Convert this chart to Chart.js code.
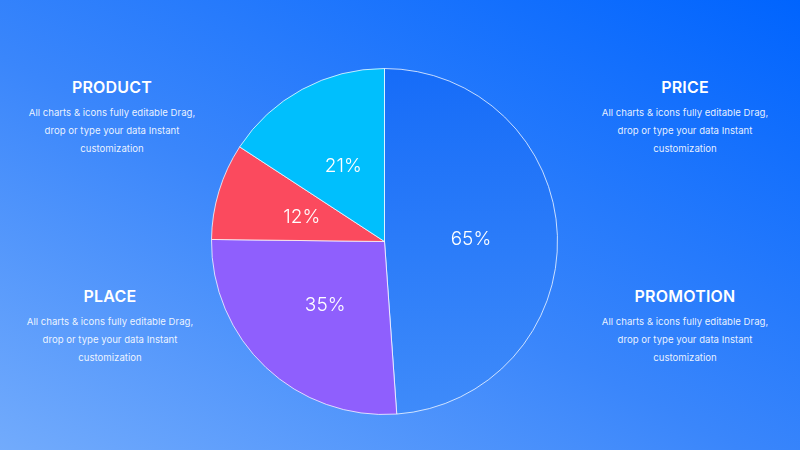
<!DOCTYPE html>
<html lang="en">
<head>
    <meta charset="UTF-8">
    <script src="https://cdn.jsdelivr.net/npm/chart.js"></script>
    <title>Marketing Mix Pie</title>
    <style>
        html, body { margin: 0; padding: 0; }
        body {
            width: 800px; height: 450px; overflow: hidden; position: relative;
            background: linear-gradient(208deg, #0064fe 0%, #3a86fb 55%, #72abfc 100%);
            font-family: "Inter", "Open Sans", sans-serif; color: #fff;
        }
        .box { position: absolute; width: 220px; text-align: center; }
        .box h2 { margin: 0; font-size: 16px; font-weight: 600; letter-spacing: 0.2px; height: 20px; line-height: 20px; }
        .box p { margin: 7px 0 0 0; font-size: 9.6px; line-height: 18px; color: rgba(255,255,255,0.9); }
        #wrap { position: absolute; left: 211px; top: 68px; width: 347px; height: 347px; }
    </style>
</head>
<body>
    <div class="box" style="left: 2px; top: 77px;">
        <h2>PRODUCT</h2>
        <p>All charts &amp; icons fully editable Drag,<br>drop or type your data Instant<br>customization</p>
    </div>
    <div class="box" style="left: 575px; top: 77px;">
        <h2>PRICE</h2>
        <p>All charts &amp; icons fully editable Drag,<br>drop or type your data Instant<br>customization</p>
    </div>
    <div class="box" style="left: 0px; top: 286px;">
        <h2>PLACE</h2>
        <p>All charts &amp; icons fully editable Drag,<br>drop or type your data Instant<br>customization</p>
    </div>
    <div class="box" style="left: 575px; top: 286px;">
        <h2>PROMOTION</h2>
        <p>All charts &amp; icons fully editable Drag,<br>drop or type your data Instant<br>customization</p>
    </div>

    <div id="wrap"><canvas id="pie"></canvas></div>

    <script>
        // slice order starts at 12 o'clock and goes clockwise
        const sliceNames = ['Price', 'Place', 'Product A', 'Product'];
        const sliceValues = [65, 35, 12, 21];
        const sliceLabels = ['65%', '35%', '12%', '21%'];
        const sliceColors = ['#2276f7', '#8f5ffd', '#fb4a5e', '#00bffd'];

        // draw the percentage text in the middle of each slice
        const sliceText = {
            id: 'sliceText',
            afterDatasetsDraw(chart) {
                const ctx = chart.ctx;
                const meta = chart.getDatasetMeta(0);
                ctx.save();
                ctx.fillStyle = '#ffffff';
                ctx.font = '300 19px Inter, "Open Sans", sans-serif';
                ctx.textAlign = 'center';
                ctx.textBaseline = 'middle';
                meta.data.forEach((arc, i) => {
                    const pos = arc.tooltipPosition();
                    ctx.fillText(sliceLabels[i], pos.x, pos.y + 1);
                });
                ctx.restore();
            }
        };

        const ctx = document.getElementById('pie').getContext('2d');
        new Chart(ctx, {
            type: 'pie',
            data: {
                labels: sliceNames,
                datasets: [{
                    data: sliceValues,
                    backgroundColor: (c) => {
                        if (c.dataIndex !== 0 || !c.chart.chartArea) return sliceColors[c.dataIndex];
                        // the big slice fades a little lighter towards the bottom
                        const a = c.chart.chartArea;
                        const g = c.chart.ctx.createLinearGradient(0, a.top, 0, a.bottom);
                        g.addColorStop(0, '#166cf8');
                        g.addColorStop(1, '#3f8bfa');
                        return g;
                    },
                    borderColor: 'rgba(255,255,255,0.75)',
                    borderWidth: 1,
                    hoverOffset: 0,
                }],
            },
            options: {
                responsive: true,
                maintainAspectRatio: false,
                animation: false,
                layout: { padding: 0 },
                plugins: {
                    legend: { display: false },
                    tooltip: { enabled: false },
                },
            },
            plugins: [sliceText],
        });
    </script>
</body>
</html>
